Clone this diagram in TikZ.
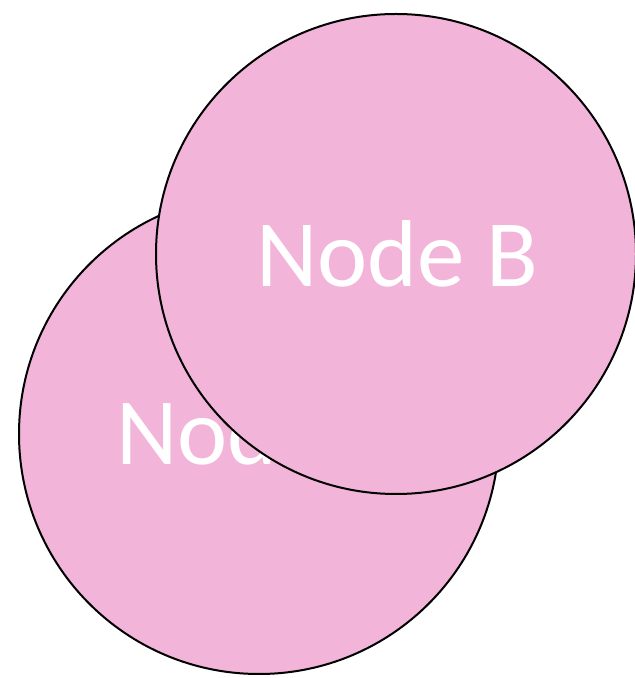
\documentclass[tikz,border=0pt]{standalone}
\usepackage{fontspec}
\setmainfont{Carlito}
\definecolor{nodepink}{RGB}{242,181,217}
\begin{document}
\begin{tikzpicture}[x=1pt,y=1pt,
  bubble/.style={circle,draw=black,line width=2pt,fill=nodepink,minimum size=480pt,inner sep=0pt},
  bubbletext/.style={text=white,font=\fontsize{95}{100}\selectfont,anchor=base,inner sep=0pt}]
\useasboundingbox (0,0) rectangle (635,678);
\node[bubble] (A) at (259,244) {};
\node[bubbletext] (At) at (259,213) {Node A};
\node[bubble] (B) at (396,424) {};
\node[bubbletext] (Bt) at (397,391) {Node B};
\end{tikzpicture}
\end{document}
